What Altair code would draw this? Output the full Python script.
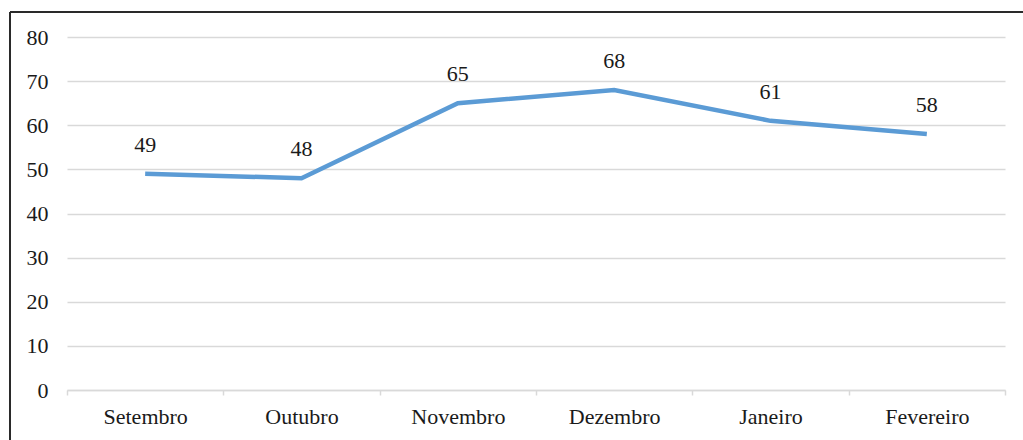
import altair as alt
import pandas as pd

meses = ["Setembro", "Outubro", "Novembro", "Dezembro", "Janeiro", "Fevereiro"]
valores = [49, 48, 65, 68, 61, 58]
y_ticks = [0, 10, 20, 30, 40, 50, 60, 70, 80]

df = pd.DataFrame({"mes": meses, "valor": valores})

FONT = "'Times New Roman', 'Liberation Serif', 'DejaVu Serif', serif"
W, H = 938, 353
PAD_L, PAD_T = 67, 37

x = alt.X(
    "mes:N",
    sort=meses,
    title=None,
    scale=alt.Scale(paddingInner=0, paddingOuter=0),
    axis=alt.Axis(
        labelAngle=0,
        labelFont=FONT,
        labelFontSize=22,
        labelColor="#1a1a1a",
        labelPadding=11,
        domainColor="#d9d9d9",
        domainWidth=1.5,
        tickColor="#d9d9d9",
        tickWidth=1.5,
        tickSize=5,
        tickBand="extent",
        grid=False,
    ),
)
y = alt.Y(
    "valor:Q",
    title=None,
    scale=alt.Scale(domain=[0, 80], nice=False),
    axis=alt.Axis(
        values=y_ticks,
        labelFont=FONT,
        labelFontSize=22,
        labelColor="#1a1a1a",
        labelPadding=19,
        domain=False,
        ticks=False,
        gridColor="#d9d9d9",
        gridWidth=1.5,
    ),
)

line = alt.Chart(df).mark_line(color="#5B9BD5", strokeWidth=4.5).encode(x=x, y=y)

labels = alt.Chart(df).mark_text(
    font=FONT, fontSize=22, color="#1a1a1a", dy=-29, baseline="middle"
).encode(x=x, y=y, text="valor:Q")

# outer frame of the figure (left and top edges)
frame_left = alt.Chart(df).mark_rule(color="#2b2b2b", strokeWidth=1.5).encode(
    x=alt.value(10 - PAD_L), y=alt.value(12 - PAD_T), y2=alt.value(440 - PAD_T + 5)
)
frame_top = alt.Chart(df).mark_rule(color="#2b2b2b", strokeWidth=1.5).encode(
    x=alt.value(10 - PAD_L), x2=alt.value(1023 - PAD_L + 5), y=alt.value(12 - PAD_T)
)

chart = (
    alt.layer(line, labels, frame_left, frame_top)
    .properties(
        width=W,
        height=H,
        autosize=alt.AutoSizeParams(type="none"),
        padding={"left": PAD_L, "top": PAD_T, "right": 1023 - PAD_L - W, "bottom": 440 - PAD_T - H},
        background="white",
    )
    .configure_view(stroke=None)
)

chart.save("out.html", embed_options={"renderer": "svg", "actions": False})
